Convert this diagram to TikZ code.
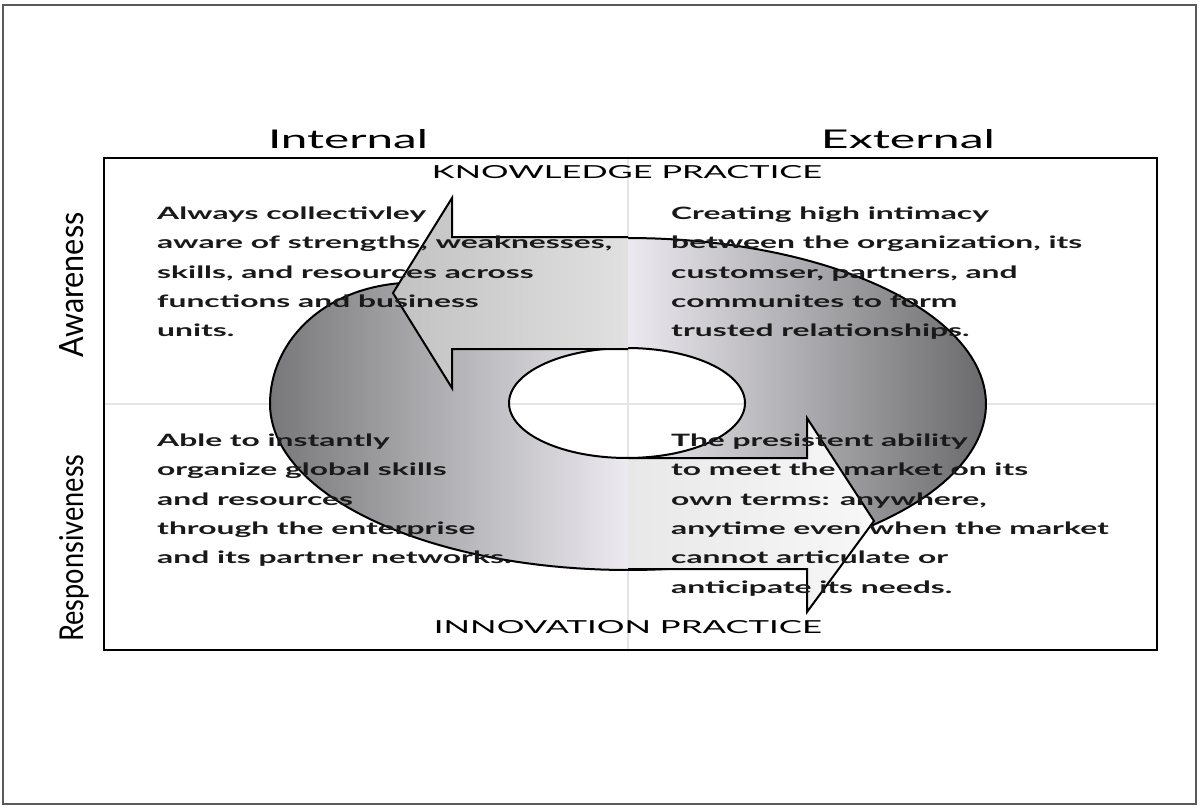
\documentclass[tikz,border=0pt]{standalone}
\usepackage{fontspec}
\setmainfont{Lato}
\usepackage{graphicx}
\newcommand\qs[1]{\scalebox{1.87}[1]{#1}}
\definecolor{ringL}{RGB}{120,120,122}
\definecolor{ringM}{RGB}{236,234,240}
\definecolor{ringR}{RGB}{106,106,108}
\begin{document}
\begin{tikzpicture}[x=1pt,y=-1pt,
  qt/.style={anchor=base west, inner sep=0pt, font=\fontsize{17}{17}\selectfont\bfseries, text=black!90},
  head/.style={anchor=base, inner sep=0pt, font=\fontsize{20}{20}\selectfont},
  side/.style={anchor=base, inner sep=0pt, rotate=90, font=\fontsize{20}{20}\selectfont},
  ring/.style={line width=2pt, draw=black, line join=miter},
]
\useasboundingbox (0,0) rectangle (1200,808);
\fill[white] (0,0) rectangle (1200,808);
\draw[black!65, line width=1.3pt] (3,5) rectangle (1196,804);
% quadrant dividers
\draw[black!10, line width=1.5pt] (628,158) -- (628,650) (104,404) -- (1157,404);
% main box
\draw[line width=2.2pt] (104,158) rectangle (1157,650);

% donut ring
\path[ring, even odd rule, left color=ringL, right color=ringR, middle color=ringM]
  plot[domain=-90:180, samples=140] ({628+358*cos(\x)},{404+166*sin(\x)})
  .. controls (270,344) and (320,289) .. (402,283) -- (455,252) -- (600,252) -- (628,238) -- cycle
  plot[domain=0:360, samples=120] ({627+118*cos(\x)},{403+55*sin(\x)}) -- cycle;

% top arrow (pointing left)
\path[left color=black!24, right color=black!12]
  (628,237) -- (452,237) -- (452,198) -- (393,293) -- (452,388) -- (452,349) -- (628,349) -- cycle;
\draw[ring] (628,237) -- (452,237) -- (452,198) -- (393,293) -- (452,388) -- (452,349) -- (628,349);

% bottom arrow (pointing right)
\path[left color=black!9, right color=black!3]
  (628,458) -- (807,458) -- (807,418) -- (874,521) -- (807,612) -- (807,569) -- (628,569) -- cycle;
\draw[ring] (628,458) -- (807,458) -- (807,418) -- (874,521) -- (807,612) -- (807,569) -- (628,569);

% headings
\node[head] (internal) at (348,148) {\resizebox{160pt}{19pt}{Internal}};
\node[head] (external) at (908,148) {\resizebox{174pt}{19pt}{External}};
\node[head] (know) at (627,178) {\resizebox{390pt}{13pt}{KNOWLEDGE PRACTICE}};
\node[head] (innov) at (628,633) {\resizebox{388pt}{13pt}{INNOVATION PRACTICE}};
\node[side] (aware) at (83,285) {\resizebox{145pt}{24pt}{Awareness}};
\node[side] (resp) at (83,548) {\resizebox{187pt}{24pt}{Responsiveness}};

% quadrant texts
\node[qt] (tl1) at (157,219.5) {\qs{Always collectivley}};
\node[qt] (tl2) at (157,248.8) {\qs{aware of strengths, weaknesses,}};
\node[qt] (tl3) at (157,278.1) {\qs{skills, and resources across}};
\node[qt] (tl4) at (157,307.4) {\qs{functions and business}};
\node[qt] (tl5) at (157,336.7) {\qs{units.}};

\node[qt] (tr1) at (671,219.5) {\qs{Creating high intimacy}};
\node[qt] (tr2) at (671,248.8) {\qs{between the organization, its}};
\node[qt] (tr3) at (671,278.1) {\qs{customser, partners, and}};
\node[qt] (tr4) at (671,307.4) {\qs{communites to form}};
\node[qt] (tr5) at (671,336.7) {\qs{trusted relationships.}};

\node[qt] (bl1) at (157,446.5) {\qs{Able to instantly}};
\node[qt] (bl2) at (157,475.8) {\qs{organize global skills}};
\node[qt] (bl3) at (157,505.1) {\qs{and resources}};
\node[qt] (bl4) at (157,534.4) {\qs{through the enterprise}};
\node[qt] (bl5) at (157,563.7) {\qs{and its partner networks.}};

\node[qt] (br1) at (671,446.5) {\qs{The presistent ability}};
\node[qt] (br2) at (671,475.8) {\qs{to meet the market on its}};
\node[qt] (br3) at (671,505.1) {\qs{own terms: anywhere,}};
\node[qt] (br4) at (671,534.4) {\qs{anytime even when the market}};
\node[qt] (br5) at (671,563.7) {\qs{cannot articulate or}};
\node[qt] (br6) at (671,593.0) {\qs{anticipate its needs.}};
\end{tikzpicture}
\end{document}
